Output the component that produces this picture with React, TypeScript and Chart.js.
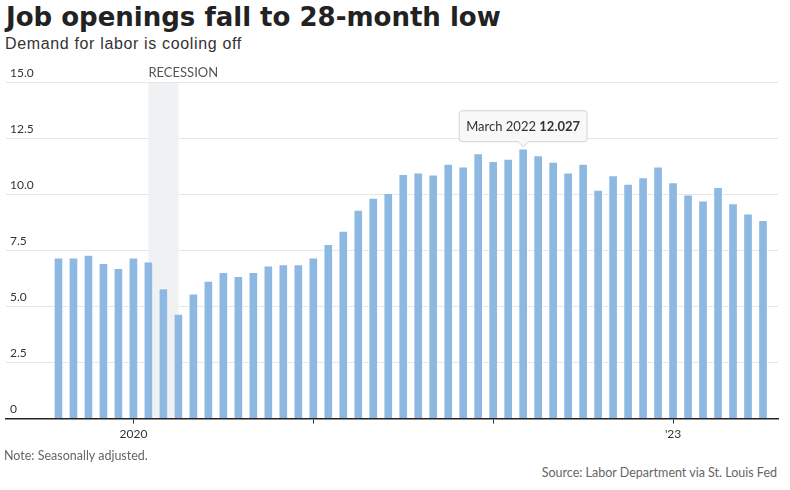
import React, { useEffect, useRef } from "react";
import { Chart, registerables } from "chart.js";

Chart.register(...registerables);

const months: string[] = [
  "August 2019", "September 2019", "October 2019", "November 2019", "December 2019",
  "January 2020", "February 2020", "March 2020", "April 2020", "May 2020", "June 2020",
  "July 2020", "August 2020", "September 2020", "October 2020", "November 2020", "December 2020",
  "January 2021", "February 2021", "March 2021", "April 2021", "May 2021", "June 2021",
  "July 2021", "August 2021", "September 2021", "October 2021", "November 2021", "December 2021",
  "January 2022", "February 2022", "March 2022", "April 2022", "May 2022", "June 2022",
  "July 2022", "August 2022", "September 2022", "October 2022", "November 2022", "December 2022",
  "January 2023", "February 2023", "March 2023", "April 2023", "May 2023", "June 2023",
  "July 2023",
];

const openings: number[] = [
  7.17, 7.17, 7.29, 6.92, 6.7,
  7.17, 6.99, 5.79, 4.66, 5.56, 6.13,
  6.52, 6.34, 6.52, 6.81, 6.86, 6.86,
  7.16, 7.77, 8.36, 9.29, 9.83, 10.04,
  10.88, 10.95, 10.86, 11.34, 11.22, 11.81,
  11.47, 11.56, 12.027, 11.72, 11.43, 10.95,
  11.34, 10.18, 10.83, 10.45, 10.74, 11.22,
  10.52, 9.97, 9.7, 10.31, 9.58, 9.13,
  8.83,
];

const yTickValues: number[] = [0, 2.5, 5, 7.5, 10, 12.5, 15];
const yTickLabels: string[] = ["0", "2.5", "5.0", "7.5", "10.0", "12.5", "15.0"];

// x ticks at January of each year (index into months)
const xTickIndices: number[] = [5, 17, 29, 41];
const xTickLabels: string[] = ["2020", "", "", "'23"];

const recessionStart = 6; // February 2020
const recessionEnd = 8; // April 2020
const recessionLabel = "RECESSION";

const highlightIndex = 31; // March 2022

const recessionPlugin = {
  id: "recession",
  beforeDatasetsDraw(chart: any) {
    const { ctx, chartArea, scales } = chart;
    const x1 = scales.x.getPixelForValue(recessionStart);
    const x2 = scales.x.getPixelForValue(recessionEnd);
    ctx.save();
    ctx.fillStyle = "#f0f1f3";
    ctx.fillRect(x1, chartArea.top + 1, x2 - x1, chartArea.bottom - chartArea.top - 2);
    ctx.fillStyle = "#555";
    ctx.font = "13px Lato";
    ctx.textAlign = "left";
    ctx.textBaseline = "middle";
    ctx.fillText(recessionLabel, x1, chartArea.top - 9);
    ctx.restore();
  },
};

const tooltipPlugin = {
  id: "fixedTip",
  afterDatasetsDraw(chart: any) {
    const { ctx } = chart;
    const el = chart.getDatasetMeta(0).data[highlightIndex];
    if (!el) return;
    const label = months[highlightIndex] + " ";
    const val = openings[highlightIndex].toFixed(3);
    ctx.save();
    ctx.font = "13px Lato";
    const w1 = ctx.measureText(label).width;
    ctx.font = "bold 13px Lato";
    const w2 = ctx.measureText(val).width;
    const padX = 7;
    const boxW = w1 + w2 + padX * 2;
    const boxH = 31;
    const tipY = el.y - 2;
    const arrowH = 5;
    const bottom = tipY - arrowH;
    const top = bottom - boxH;
    const left = el.x - boxW / 2;
    const right = left + boxW;
    const r = 3;
    ctx.beginPath();
    ctx.moveTo(left + r, top);
    ctx.lineTo(right - r, top);
    ctx.quadraticCurveTo(right, top, right, top + r);
    ctx.lineTo(right, bottom - r);
    ctx.quadraticCurveTo(right, bottom, right - r, bottom);
    ctx.lineTo(el.x + arrowH, bottom);
    ctx.lineTo(el.x, tipY);
    ctx.lineTo(el.x - arrowH, bottom);
    ctx.lineTo(left + r, bottom);
    ctx.quadraticCurveTo(left, bottom, left, bottom - r);
    ctx.lineTo(left, top + r);
    ctx.quadraticCurveTo(left, top, left + r, top);
    ctx.closePath();
    ctx.fillStyle = "#f8f8f8";
    ctx.fill();
    ctx.strokeStyle = "#d4d4d4";
    ctx.lineWidth = 1;
    ctx.stroke();
    ctx.fillStyle = "#333";
    ctx.textBaseline = "middle";
    ctx.textAlign = "left";
    const ty = top + boxH / 2 + 0.5;
    ctx.font = "13px Lato";
    ctx.fillText(label, left + padX, ty);
    ctx.font = "bold 13px Lato";
    ctx.fillText(val, left + padX + w1, ty);
    ctx.restore();
  },
};

export default function App() {
  const canvasRef = useRef<HTMLCanvasElement | null>(null);

  useEffect(() => {
    if (!canvasRef.current) return;
    const chart = new Chart(canvasRef.current, {
      type: "bar",
      data: {
        datasets: [
          {
            data: openings.map((v, i) => ({ x: i, y: v })),
            backgroundColor: "#8cb8e2",
            borderColor: "rgba(255,255,255,0.45)",
            borderWidth: 1,
            barThickness: 9,
          },
        ],
      },
      options: {
        animation: false,
        responsive: false,
        maintainAspectRatio: false,
        layout: { padding: { top: 22, left: -2, right: 12, bottom: 11 } },
        plugins: {
          legend: { display: false },
          tooltip: { enabled: false },
          title: { display: false },
        },
        scales: {
          x: {
            type: "linear",
            offset: false,
            bounds: "data",
            min: -3.5,
            max: 48,
            afterBuildTicks: (scale: any) => {
              scale.ticks = xTickIndices.map((v) => ({ value: v }));
            },
            grid: {
              display: true,
              offset: false,
              drawOnChartArea: false,
              drawTicks: true,
              tickLength: 5,
              tickColor: "#333",
            },
            border: { display: true, color: "#222", width: 1.5 },
            ticks: {
              autoSkip: false,
              maxRotation: 0,
              padding: 3,
              color: "#333",
              font: { family: "Lato", size: 12 },
              callback: (_v: any, i: number) => xTickLabels[i] ?? "",
            },
          },
          y: {
            min: 0,
            max: 15,
            afterBuildTicks: (scale: any) => {
              scale.ticks = yTickValues.map((v) => ({ value: v }));
            },
            grid: { color: "#e6e6e6", drawTicks: false, lineWidth: 1 },
            border: { display: false },
            ticks: {
              mirror: true,
              padding: 4,
              labelOffset: -9,
              color: "#333",
              font: { family: "Lato", size: 12 },
              callback: (_v: any, i: number) => yTickLabels[i] ?? "",
            },
          },
        },
      },
      plugins: [recessionPlugin, tooltipPlugin],
    } as any);
    return () => chart.destroy();
  }, []);

  return (
    <div style={{ position: "absolute", left: 0, top: 0, width: 790, height: 490, background: "#fff" }}>
      <div
        style={{
          position: "absolute",
          left: 6,
          top: 4,
          font: "bold 26px 'DejaVu Sans'",
          lineHeight: "26px",
          color: "#222",
          whiteSpace: "nowrap",
        }}
      >
        Job openings fall to 28-month low
      </div>
      <div
        style={{
          position: "absolute",
          left: 5,
          top: 35,
          font: "16px 'Liberation Sans'",
          letterSpacing: "0.65px",
          lineHeight: "18px",
          color: "#333",
          whiteSpace: "nowrap",
        }}
      >
        Demand for labor is cooling off
      </div>
      <canvas
        ref={canvasRef}
        width={790}
        height={395}
        style={{ position: "absolute", left: 0, top: 60, width: 790, height: 395 }}
      />
      <div
        style={{
          position: "absolute",
          left: 4,
          top: 448,
          font: "12.5px Lato",
          lineHeight: "16px",
          color: "#666",
          whiteSpace: "nowrap",
        }}
      >
        Note: Seasonally adjusted.
      </div>
      <div
        style={{
          position: "absolute",
          right: 13,
          top: 465,
          font: "12.5px Lato",
          lineHeight: "16px",
          color: "#666",
          whiteSpace: "nowrap",
        }}
      >
        Source: Labor Department via St. Louis Fed
      </div>
    </div>
  );
}
